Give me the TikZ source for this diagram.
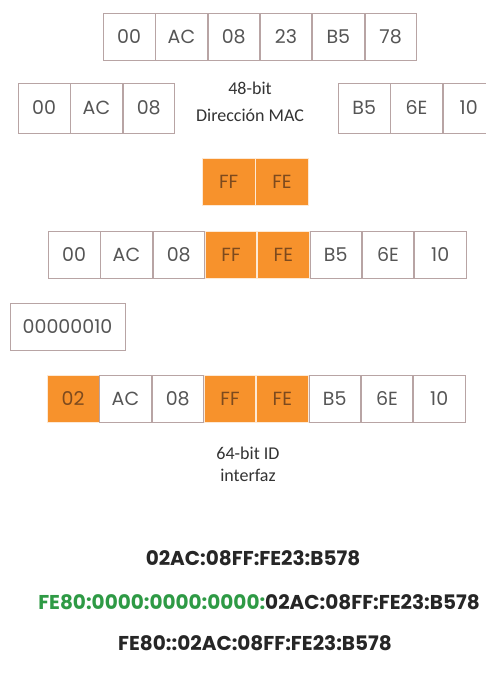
\documentclass[tikz,border=0pt]{standalone}
\usepackage{fontspec}
\setmainfont{Carlito}
\newfontfamily\cellfont{Poppins}
\usetikzlibrary{positioning}

\definecolor{cellline}{HTML}{B8A4A4}
\definecolor{celltext}{HTML}{555555}
\definecolor{macorange}{HTML}{F7922C}
\definecolor{hitext}{HTML}{7D4A1E}
\definecolor{prefgreen}{HTML}{2E9A45}

\tikzset{
    cell/.style={draw=cellline, line width=0.8pt, minimum width=51.5pt,
        minimum height=47pt, inner sep=0pt, text=celltext,
        font=\cellfont\fontsize{19}{19}\selectfont},
    hicell/.style={cell, fill=macorange, draw=white!80!macorange, text=hitext},
    lbl/.style={font=\fontsize{18}{18}\selectfont, text=black!80},
    addr/.style={font=\cellfont\bfseries\fontsize{20}{20}\selectfont, text=black!85},
}

\begin{document}
\begin{tikzpicture}[x=1pt, y=-1pt]
    \clip (0, 0) rectangle (486, 673);
    \fill[white] (0, 0) rectangle (486, 673);

    % 48-bit MAC
    \node[cell, anchor=west] at (103, 37) (m1) {00};
    \node[cell, right=0pt of m1] (m2) {AC};
    \node[cell, right=0pt of m2] (m3) {08};
    \node[cell, right=0pt of m3] (m4) {23};
    \node[cell, right=0pt of m4] (m5) {B5};
    \node[cell, right=0pt of m5] (m6) {78};

    % split halves
    \node[cell, anchor=west, minimum height=50pt] at (18, 108) (l1) {00};
    \node[cell, right=0pt of l1, minimum height=50pt] (l2) {AC};
    \node[cell, right=0pt of l2, minimum height=50pt] (l3) {08};
    \node[cell, anchor=west, minimum height=50pt] at (338, 108) (r1) {B5};
    \node[cell, right=0pt of r1, minimum height=50pt] (r2) {6E};
    \node[cell, right=0pt of r2, minimum height=50pt] (r3) {10};

    \node[lbl] at (250, 88) (bits48) {48-bit};
    \node[lbl] at (250, 115) (mac) {Dirección MAC};

    % inserted FFFE
    \node[hicell, anchor=west, minimum width=52.5pt] at (202, 181.5) (f1) {FF};
    \node[hicell, right=0pt of f1, minimum width=52.5pt] (f2) {FE};

    % EUI-64
    \node[cell, anchor=west] at (48, 255) (e1) {00};
    \node[cell, right=0pt of e1] (e2) {AC};
    \node[cell, right=0pt of e2] (e3) {08};
    \node[hicell, right=0pt of e3] (e4) {FF};
    \node[hicell, right=0pt of e4] (e5) {FE};
    \node[cell, right=0pt of e5] (e6) {B5};
    \node[cell, right=0pt of e6] (e7) {6E};
    \node[cell, right=0pt of e7] (e8) {10};

    % U/L bit
    \node[cell, minimum width=115pt] at (67.5, 326.5) (ul) {00000010};

    % modified EUI-64
    \node[hicell, anchor=west] at (47, 398.5) (i1) {02};
    \node[cell, right=0pt of i1] (i2) {AC};
    \node[cell, right=0pt of i2] (i3) {08};
    \node[hicell, right=0pt of i3] (i4) {FF};
    \node[hicell, right=0pt of i4] (i5) {FE};
    \node[cell, right=0pt of i5] (i6) {B5};
    \node[cell, right=0pt of i6] (i7) {6E};
    \node[cell, right=0pt of i7] (i8) {10};

    \node[lbl] at (248, 453) (bits64) {64-bit ID};
    \node[lbl] at (248, 475) (iface) {interfaz};

    % resulting addresses
    \node[addr] at (253, 558) (a1) {02AC:08FF:FE23:B578};
    \node[addr] at (259, 602) (a2) {{\color{prefgreen}FE80:0000:0000:0000:}02AC:08FF:FE23:B578};
    \node[addr] at (255, 643) (a3) {FE80::02AC:08FF:FE23:B578};
\end{tikzpicture}
\end{document}
